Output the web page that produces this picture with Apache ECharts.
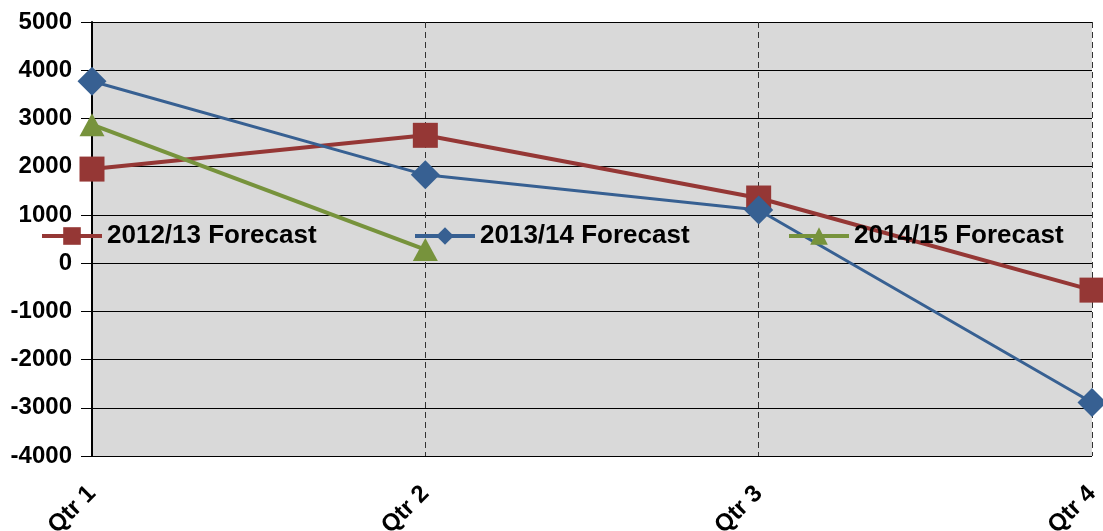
<!DOCTYPE html>
<html lang="en">
<head>
    <meta charset="UTF-8">
    <title>Forecast by quarter</title>
    <script src="https://cdn.jsdelivr.net/npm/echarts@6/dist/echarts.min.js"></script>
    <style>
        body { margin: 0; background: #fff; }
    </style>
</head>
<body>
<div id="main" style="width: 1103px;height:531px;"></div>
<script type="text/javascript">
    // data
    var quarters = ['Qtr 1', 'Qtr 2', 'Qtr 3', 'Qtr 4'];
    var forecast1213 = [1950, 2650, 1350, -560];
    var forecast1314 = [3770, 1830, 1100, -2890];
    var forecast1415 = [2870, 280, null, null];
    var seriesNames = ['2012/13 Forecast', '2013/14 Forecast', '2014/15 Forecast'];

    var font = 'Liberation Sans, Arial, sans-serif';
    var myChart = echarts.init(document.getElementById('main'));

    // one legend per item so the spacing matches the original
    function legendAt(name, left) {
        return {
            data: [name],
            left: left,
            top: 223,
            padding: 0,
            itemWidth: 60,
            itemHeight: 22,
            itemGap: 8,
            lineStyle: { width: 4 },
            textStyle: { fontFamily: font, fontWeight: 'bold', fontSize: 26, color: '#000' }
        };
    }

    var option = {
        animation: false,
        backgroundColor: '#fff',
        grid: { left: 92, right: 11, top: 22, bottom: 75, containLabel: false,
                outerBoundsMode: 'none',
                show: true, backgroundColor: '#d9d9d9', borderWidth: 0 },
        legend: [
            legendAt(seriesNames[0], 40),
            legendAt(seriesNames[1], 413),
            legendAt(seriesNames[2], 787)
        ],
        xAxis: {
            type: 'category',
            data: quarters,
            boundaryGap: false,
            axisLine: { show: false, onZero: false },
            axisTick: { show: false },
            axisLabel: { rotate: 45, margin: 34, fontFamily: font, fontWeight: 'bold', fontSize: 24, color: '#000' },
            splitLine: { show: true, lineStyle: { type: [6, 4], color: '#333', width: 1 } }
        },
        yAxis: {
            type: 'value',
            min: -4000,
            max: 5000,
            interval: 1000,
            axisLine: { show: true, lineStyle: { color: '#000', width: 2 } },
            axisTick: { show: true, inside: false, length: 11, lineStyle: { color: '#000' } },
            axisLabel: { margin: 20, fontFamily: font, fontWeight: 'bold', fontSize: 24, color: '#000',
                         formatter: function (v) { return String(v); } },
            splitLine: { show: true, lineStyle: { color: '#000', width: 1 } }
        },
        series: [
            {
                name: seriesNames[0], type: 'line', data: forecast1213,
                symbol: 'rect', symbolSize: 25,
                itemStyle: { color: '#953735' },
                lineStyle: { color: '#953735', width: 4 }
            },
            {
                name: seriesNames[1], type: 'line', data: forecast1314,
                symbol: 'diamond', symbolSize: [29, 29],
                itemStyle: { color: '#376092' },
                lineStyle: { color: '#376092', width: 3 }
            },
            {
                name: seriesNames[2], type: 'line', data: forecast1415,
                symbol: 'triangle', symbolSize: [25, 23],
                itemStyle: { color: '#77933c' },
                lineStyle: { color: '#77933c', width: 4 }
            }
        ]
    };

    myChart.setOption(option);
</script>
</body>
</html>
